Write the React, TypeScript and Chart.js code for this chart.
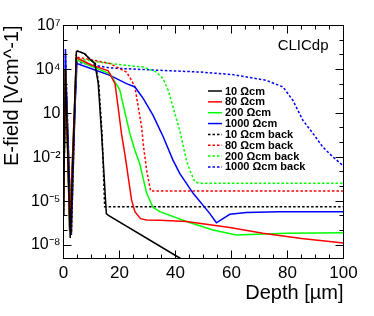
import React, { useEffect, useRef } from "react";
import { Chart, registerables } from "chart.js";

Chart.register(...registerables);

const FONT = "'Liberation Sans', Arial, Helvetica, sans-serif";

const seriesLabels = [
  "10 Ωcm", "80 Ωcm", "200 Ωcm", "1000 Ωcm",
  "10 Ωcm back", "80 Ωcm back", "200 Ωcm back", "1000 Ωcm back",
];
const seriesColors = ["#000000", "#ff0000", "#00ff00", "#0000ff", "#000000", "#ff0000", "#00ff00", "#0000ff"];
const seriesDashed = [false, false, false, false, true, true, true, true];

const xTickValues = [0, 20, 40, 60, 80, 100];
const yTickValues = [1e-8, 1e-5, 1e-2, 10, 1e4, 1e7];
const yTickLabels = ["10⁻⁸", "10⁻⁵", "10⁻²", "10", "10⁴", "10⁷"];

// 10 Ωcm
const depth10 = [0, 0.7, 2.4, 4.6, 5.0, 7.5, 9.9, 11.2, 12.4, 13.6, 15.3, 15.9, 41.5, 50];
const field10 = [1e-6, 1e4, 3e-8, 1.6e5, 1.8e5, 1.2e5, 4.1e4, 2.5e4, 1.1e3, 0.42, 1.4e-6, 1.1e-6, 1.3e-9, 1.3e-10];
// 80 Ωcm
const depth80 = [0, 0.7, 2.2, 4.6, 10, 16, 18.4, 19.5, 20.7, 22, 24.3, 25.5, 27.5, 29.7, 34.4, 43.9, 59.4, 71.2, 85, 100];
const field80 = [1e-6, 1e4, 1e-7, 6.3e4, 2e4, 7.9e3, 1.07e3, 27, 0.42, 0.0126, 1.2e-5, 1.9e-6, 6.3e-7, 5.1e-7, 5e-7, 4e-7, 1.6e-7, 6.3e-8, 2.8e-8, 1.4e-8];
// 200 Ωcm
const depth200 = [0, 0.7, 2.2, 4.6, 10, 16.6, 20.1, 21.9, 23.7, 25.5, 27.3, 29.7, 32, 34.4, 43.9, 53.4, 61.7, 68.9, 80, 100];
const field200 = [1e-6, 1e4, 1e-7, 4.6e4, 1.6e4, 5e3, 400, 12.6, 0.42, 0.03, 3.2e-3, 3.4e-5, 3.7e-6, 1.9e-6, 4e-7, 1.07e-7, 4.9e-8, 5.4e-8, 6.5e-8, 6.9e-8];
// 1000 Ωcm
const depth1000 = [0, 0.7, 2.2, 4.8, 10, 16.6, 22.5, 25.5, 28.5, 32, 35.6, 39.1, 41.5, 46.3, 52.2, 54.6, 59.4, 65.3, 77.2, 100];
const field1000 = [1e-6, 2.5e5, 1e-7, 2.5e4, 1.1e4, 3.9e3, 1.07e3, 630, 100, 7.2, 0.25, 6.3e-3, 7.8e-4, 3.4e-5, 1.45e-6, 3.3e-7, 1.26e-6, 1.66e-6, 1.9e-6, 1.9e-6];
// 10 Ωcm back
const depth10b = [0, 0.7, 2.8, 4.6, 5.0, 7.5, 9.9, 11.4, 12.6, 13.8, 14.7, 100];
const field10b = [1e-6, 1e4, 5e-8, 1.6e5, 1.8e5, 1.2e5, 4.1e4, 2.5e4, 1.1e3, 0.3, 4.2e-6, 4.2e-6];
// 80 Ωcm back
const depth80b = [0, 0.7, 2.8, 4.6, 10, 16.6, 22.5, 24.3, 25.5, 26.7, 27.9, 28.6, 29.7, 31.1, 100];
const field80b = [1e-6, 1e4, 5e-8, 6.9e4, 4.5e4, 2.5e4, 6.6e3, 1.8e3, 630, 27, 1.2, 0.05, 1.3e-3, 5e-5, 5e-5];
// 200 Ωcm back
const depth200b = [0, 0.7, 2.8, 4.6, 16.6, 28.5, 33.2, 35.6, 37.4, 39.1, 41.5, 43.9, 45.1, 46.9, 48.5, 100];
const field200b = [1e-6, 1e4, 5e-8, 5.4e4, 2.5e4, 1.45e4, 6.6e3, 2.3e3, 370, 27, 0.69, 6.3e-3, 1.3e-3, 2.1e-4, 1.66e-4, 1.66e-4];
// 1000 Ωcm back
const depth1000b = [0, 0.7, 2.8, 4.6, 16.6, 33, 48.7, 60.5, 72.4, 78.4, 81.9, 85.5, 89.1, 92.6, 96.2, 100];
const field1000b = [1e-6, 1e5, 5e-8, 3.2e4, 1.26e4, 8.9e3, 6.6e3, 4.4e3, 1.8e3, 630, 78, 3.3, 0.42, 0.05, 0.0105, 2.5e-3];

const seriesDepths = [depth10, depth80, depth200, depth1000, depth10b, depth80b, depth200b, depth1000b];
const seriesFields = [field10, field80, field200, field1000, field10b, field80b, field200b, field1000b];

const decorPlugin = {
  id: "decor",
  afterDatasetsDraw(chart: any) {
    const { ctx, chartArea: a, scales } = chart;
    const xs = scales.x;
    const ys = scales.y;
    ctx.save();
    ctx.strokeStyle = "#000";
    ctx.lineWidth = 1;
    ctx.strokeRect(a.left, a.top, a.right - a.left, a.bottom - a.top);
    ctx.beginPath();
    for (let v = 0; v <= 100; v += 5) {
      const px = Math.round(xs.getPixelForValue(v) - 0.5) + 0.5;
      const len = v % 20 === 0 ? 8 : 4;
      ctx.moveTo(px, a.bottom);
      ctx.lineTo(px, a.bottom - len);
      ctx.moveTo(px, a.top);
      ctx.lineTo(px, a.top + len);
    }
    for (let e = -8; e <= 7; e++) {
      const py = Math.round(ys.getPixelForValue(Math.pow(10, e)) - 0.5) + 0.5;
      const len = (e + 8) % 3 === 0 ? 8 : 4;
      ctx.moveTo(a.left, py);
      ctx.lineTo(a.left + len, py);
      ctx.moveTo(a.right, py);
      ctx.lineTo(a.right - len, py);
    }
    ctx.stroke();

    // CLICdp label
    ctx.fillStyle = "#000";
    ctx.font = `15px ${FONT}`;
    ctx.textAlign = "right";
    ctx.textBaseline = "alphabetic";
    ctx.fillText("CLICdp", 328.5, 50);

    // legend
    ctx.font = `bold 11px ${FONT}`;
    ctx.textAlign = "left";
    ctx.textBaseline = "middle";
    chart.data.datasets.forEach((ds: any, i: number) => {
      const yy = 91 + i * 10.85;
      ctx.beginPath();
      ctx.strokeStyle = ds.borderColor;
      ctx.lineWidth = 1.5;
      ctx.setLineDash(ds.borderDash || []);
      ctx.moveTo(208, yy);
      ctx.lineTo(222, yy);
      ctx.stroke();
      ctx.setLineDash([]);
      ctx.fillStyle = "#000";
      ctx.fillText(ds.label, 225, yy + 0.5);
    });
    ctx.restore();
  },
};

export default function App() {
  const ref = useRef<HTMLCanvasElement>(null);
  useEffect(() => {
    if (!ref.current) return;
    const datasets = seriesLabels.map((label, i) => ({
      label,
      data: seriesDepths[i].map((d, j) => ({ x: d, y: seriesFields[i][j] })),
      borderColor: seriesColors[i],
      backgroundColor: seriesColors[i],
      borderWidth: 1.5,
      borderDash: seriesDashed[i] ? [2.5, 2] : [],
      pointRadius: 0,
      tension: 0,
      fill: false,
    }));
    const chart = new Chart(ref.current, {
      type: "line",
      data: { datasets },
      options: {
        responsive: false,
        animation: false,
        layout: { padding: { top: 25.5, right: 30.5, left: 0, bottom: 0 } },
        plugins: { legend: { display: false }, tooltip: { enabled: false } },
        scales: {
          x: {
            type: "linear",
            min: 0,
            max: 100,
            afterFit: (s: any) => { s.height = 57.5; },
            afterBuildTicks: (s: any) => { s.ticks = xTickValues.map((v) => ({ value: v })); },
            grid: { display: false, drawTicks: false },
            border: { display: false },
            ticks: { color: "#000", font: { family: FONT, size: 17 }, padding: 5, maxRotation: 0 },
            title: {
              display: true,
              text: "Depth [µm]",
              align: "end",
              color: "#000",
              font: { family: FONT, size: 20 },
              padding: { top: 0, bottom: 11 },
            },
          },
          y: {
            type: "logarithmic",
            min: 1.2e-9,
            max: 1e7,
            afterFit: (s: any) => { s.width = 63.5; },
            afterBuildTicks: (s: any) => { s.ticks = yTickValues.map((v) => ({ value: v })); },
            grid: { display: false, drawTicks: false },
            border: { display: false },
            ticks: {
              color: "#000",
              font: { family: FONT, size: 16 },
              padding: 3,
              callback: (v: any) => {
                const k = yTickValues.findIndex((t) => Math.abs(Math.log10(t) - Math.log10(v)) < 1e-6);
                return k >= 0 ? yTickLabels[k] : "";
              },
            },
            title: {
              display: true,
              text: "E-field [Vcm^-1]",
              align: "end",
              color: "#000",
              font: { family: FONT, size: 20 },
              padding: { top: 0, bottom: 0 },
            },
          },
        },
      },
      plugins: [decorPlugin],
    } as any);
    return () => chart.destroy();
  }, []);
  return (
    <div style={{ position: "fixed", left: 0, top: 0, width: 374, height: 316, background: "#fff" }}>
      <canvas ref={ref} width={374} height={316} style={{ display: "block" }} />
    </div>
  );
}
